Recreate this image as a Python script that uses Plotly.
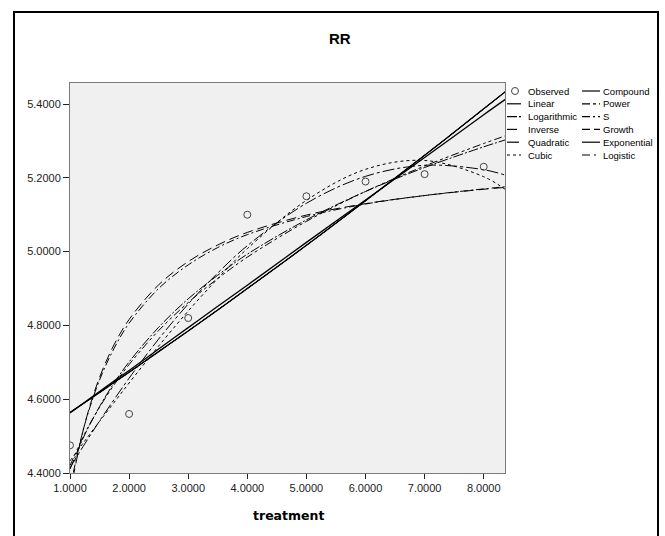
import plotly.graph_objects as go

# ---------------- data ----------------
x_obs = [1, 2, 3, 4, 5, 6, 7, 8]
y_obs = [4.475, 4.56, 4.82, 5.10, 5.15, 5.19, 5.21, 5.23]

x_fit = [1, 1.25, 1.5, 1.75, 2, 2.5, 3, 3.5, 4, 5, 6, 7, 8, 8.37]
linear_y = [4.563, 4.592, 4.621, 4.650, 4.678, 4.736, 4.794, 4.852, 4.909, 5.025, 5.140, 5.255, 5.371, 5.413]
logarithmic_y = [4.410, 4.504, 4.580, 4.645, 4.701, 4.795, 4.872, 4.936, 4.993, 5.086, 5.163, 5.228, 5.284, 5.303]
inverse_y = [4.345, 4.533, 4.659, 4.749, 4.816, 4.910, 4.973, 5.018, 5.052, 5.099, 5.130, 5.152, 5.169, 5.174]
quadratic_y = [4.414, 4.479, 4.541, 4.600, 4.657, 4.763, 4.858, 4.942, 5.016, 5.131, 5.204, 5.234, 5.222, 5.207]
cubic_y = [4.433, 4.487, 4.540, 4.592, 4.644, 4.744, 4.839, 4.927, 5.008, 5.139, 5.223, 5.247, 5.203, 5.168]
compound_y = [4.564, 4.591, 4.618, 4.646, 4.673, 4.729, 4.785, 4.842, 4.900, 5.017, 5.138, 5.261, 5.387, 5.434]
power_y = [4.420, 4.507, 4.578, 4.640, 4.694, 4.786, 4.862, 4.927, 4.985, 5.082, 5.163, 5.232, 5.293, 5.314]
s_y = [4.359, 4.532, 4.652, 4.739, 4.806, 4.900, 4.964, 5.011, 5.046, 5.095, 5.129, 5.152, 5.170, 5.176]
growth_y = [4.564, 4.591, 4.618, 4.646, 4.673, 4.729, 4.785, 4.842, 4.900, 5.017, 5.138, 5.261, 5.387, 5.434]
exponential_y = [4.564, 4.591, 4.618, 4.646, 4.673, 4.729, 4.785, 4.842, 4.900, 5.017, 5.138, 5.261, 5.387, 5.434]
logistic_y = [4.564, 4.591, 4.618, 4.646, 4.673, 4.729, 4.785, 4.842, 4.900, 5.017, 5.138, 5.261, 5.387, 5.434]

x_ticks = [1, 2, 3, 4, 5, 6, 7, 8]
y_ticks = [4.4, 4.6, 4.8, 5.0, 5.2, 5.4]

title_text = "RR"
x_title = "treatment"

# (name, values, dash, width)
col1 = [("Linear", linear_y, "solid", 1.3),
        ("Logarithmic", logarithmic_y, "10px,2px,2px,2px", 1),
        ("Inverse", inverse_y, "10px,5px", 1),
        ("Quadratic", quadratic_y, "12px,3px,3px,3px", 1),
        ("Cubic", cubic_y, "3px,3px", 1)]
col2 = [("Compound", compound_y, "solid", 1.3),
        ("Power", power_y, "8px,3px,3px,3px,3px,3px", 1),
        ("S", s_y, "8px,3px,2px,3px", 1),
        ("Growth", growth_y, "8px,4px", 1),
        ("Exponential", exponential_y, "solid", 1),
        ("Logistic", logistic_y, "8px,4px,2px,4px", 1)]

W, H = 665, 536
L, R, T, B = 70, 160, 83, 63
PW, PH = W - L - R, H - T - B


def px_x(p):
    return (p - L) / PW


def px_y(p):
    return (H - B - p) / PH


FONT = "Liberation Sans, Arial, sans-serif"

fig = go.Figure()
for name, vals, dash, w in col1 + col2:
    fig.add_trace(go.Scatter(x=x_fit, y=vals, mode="lines", name=name,
                             line=dict(color="black", width=w, dash=dash, shape="spline"),
                             showlegend=False))
fig.add_trace(go.Scatter(x=x_obs, y=y_obs, mode="markers", name="Observed",
                         marker=dict(symbol="circle-open", size=7,
                                     color="#444", line=dict(width=1, color="#444")),
                         showlegend=False))

shapes = []
annotations = []
# outer frame
shapes.append(dict(type="rect", xref="paper", yref="paper",
                   x0=px_x(14), x1=px_x(658), y0=px_y(548), y1=px_y(12),
                   line=dict(color="black", width=2)))

# manual legend
row0, dy = 91, 12.8
cy = row0
shapes.append(dict(type="circle", xref="paper", yref="paper",
                   x0=px_x(511.5), x1=px_x(518.5), y0=px_y(cy + 3.5), y1=px_y(cy - 3.5),
                   line=dict(color="#444", width=1)))
annotations.append(dict(x=px_x(526), y=px_y(cy), xref="paper", yref="paper",
                        text="Observed", showarrow=False, xanchor="left", yanchor="middle",
                        font=dict(family=FONT, size=9.5, color="black")))
for i, (name, vals, dash, w) in enumerate(col1):
    cy = row0 + dy * (i + 1)
    shapes.append(dict(type="line", xref="paper", yref="paper",
                       x0=px_x(507), x1=px_x(521), y0=px_y(cy), y1=px_y(cy),
                       line=dict(color="black", width=1.2, dash=dash)))
    annotations.append(dict(x=px_x(526), y=px_y(cy), xref="paper", yref="paper",
                            text=name, showarrow=False, xanchor="left", yanchor="middle",
                            font=dict(family=FONT, size=9.5, color="black")))
for i, (name, vals, dash, w) in enumerate(col2):
    cy = row0 + dy * i
    shapes.append(dict(type="line", xref="paper", yref="paper",
                       x0=px_x(582), x1=px_x(600), y0=px_y(cy), y1=px_y(cy),
                       line=dict(color="black", width=1.2, dash=dash)))
    annotations.append(dict(x=px_x(601), y=px_y(cy), xref="paper", yref="paper",
                            text=name, showarrow=False, xanchor="left", yanchor="middle",
                            font=dict(family=FONT, size=9.5, color="black")))

annotations.append(dict(x=px_x(340), y=px_y(39), xref="paper", yref="paper",
                        text="<b>" + title_text + "</b>", showarrow=False, xanchor="center",
                        yanchor="middle",
                        font=dict(family=FONT, size=15, color="black")))
annotations.append(dict(x=px_x(288), y=px_y(515), xref="paper", yref="paper",
                        text="<b>" + x_title + "</b>", showarrow=False, xanchor="center",
                        yanchor="middle",
                        font=dict(family="DejaVu Sans, sans-serif", size=12.5, color="black")))

fig.update_layout(
    width=W, height=H,
    margin=dict(l=L, r=R, t=T, b=B, pad=0),
    paper_bgcolor="white", plot_bgcolor="#f0f0f0",
    font=dict(family=FONT, size=11, color="#222"),
    shapes=shapes, annotations=annotations, showlegend=False,
    xaxis=dict(range=[1, 8.36], tickvals=x_ticks, tickformat=".4f",
               showgrid=False, zeroline=False, showline=True, mirror=True,
               linecolor="#7a7a7a", linewidth=1, ticks="outside", ticklen=5,
               tickcolor="#222", tickwidth=1, tickfont=dict(size=11, color="#222")),
    yaxis=dict(range=[4.4, 5.457], tickvals=y_ticks, tickformat=".4f",
               showgrid=False, zeroline=False, showline=True, mirror=True,
               linecolor="#7a7a7a", linewidth=1, ticks="outside", ticklen=6,
               tickcolor="#222", tickwidth=1, tickfont=dict(size=11, color="#222")),
)

fig.write_html("out.html")
